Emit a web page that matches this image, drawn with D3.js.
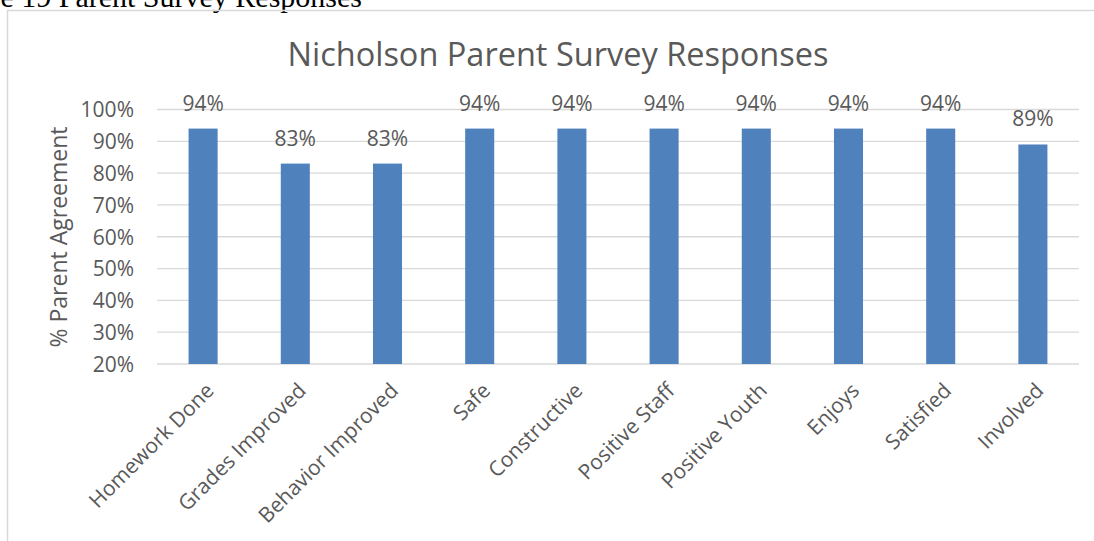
<!DOCTYPE html>
<html><head><meta charset="utf-8">
<script src="https://cdn.jsdelivr.net/npm/d3@7"></script>
<style>
html,body{margin:0;padding:0;background:#fff;}
svg text{font-family:"Open Sans","DejaVu Sans",sans-serif;fill:#595959;}
</style></head>
<body><svg id="c" width="1094" height="541"></svg>
<script>
const categories = ["Homework Done","Grades Improved","Behavior Improved","Safe","Constructive","Positive Staff","Positive Youth","Enjoys","Satisfied","Involved"];
const values = [0.94,0.83,0.83,0.94,0.94,0.94,0.94,0.94,0.94,0.89];
const yTicks = [0.2,0.3,0.4,0.5,0.6,0.7,0.8,0.9,1.0];
const title = "Nicholson Parent Survey Responses";
const yTitle = "% Parent Agreement";
const caption = "Figure 19 Parent Survey Responses";

const svg = d3.select("#c");
const W = 1094, H = 541;
const m = {left:157, right:1079, top:109.5, bottom:364};

// document caption (cropped at top, as in the reference)
svg.append("text").attr("x",362).attr("y",6.5).attr("text-anchor","end")
  .style("font-family","'Liberation Serif','Times New Roman',serif").style("font-size","30px").style("fill","#000")
  .text(caption);

// chart frame
svg.append("path").attr("d",`M7.5,${H} V10.5 H${W}`).attr("fill","none").attr("stroke","#d9d9d9").attr("stroke-width",1.5);

const x = d3.scaleBand().domain(categories).range([m.left,m.right]).paddingInner(0.685).paddingOuter(0.3425);
const y = d3.scaleLinear().domain([0.2,1.0]).range([m.bottom,m.top]);

// gridlines
svg.append("g").selectAll("line").data(yTicks).join("line")
  .attr("x1",m.left).attr("x2",m.right)
  .attr("y1",d=>y(d)).attr("y2",d=>y(d))
  .attr("stroke","#d9d9d9").attr("stroke-width",1.3);

// y axis labels
const yAxis = d3.axisLeft(y).tickValues(yTicks).tickFormat(d3.format(".0%")).tickSize(0).tickPadding(0);
const gy = svg.append("g").attr("transform",`translate(134,0)`).call(yAxis);
gy.select(".domain").remove();
gy.selectAll("text").style("font-size","21px").attr("dy","0.35em").style("fill","#595959");

// bars
svg.append("g").selectAll("rect").data(values).join("rect")
  .attr("x",(d,i)=>x(categories[i])).attr("width",x.bandwidth())
  .attr("y",d=>y(d)).attr("height",d=>y(0.2)-y(d))
  .attr("fill","#4f81bd");

// data labels
svg.append("g").selectAll("text").data(values).join("text")
  .attr("x",(d,i)=>x(categories[i])+x.bandwidth()/2)
  .attr("y",d=>y(d)-18)
  .attr("text-anchor","middle").style("font-size","21px")
  .text(d=>d3.format(".0%")(d));

// x axis labels
const xAxis = d3.axisBottom(x).tickSize(0).tickPadding(0);
const gx = svg.append("g").attr("transform",`translate(0,${m.bottom})`).call(xAxis);
gx.select(".domain").remove();
gx.selectAll("text")
  .attr("text-anchor","end").attr("dy",0).attr("y",0).attr("x",0)
  .attr("transform","translate(12,28) rotate(-45)")
  .style("font-size","21px").style("fill","#595959");

// title
svg.append("text").attr("x",558).attr("y",66).attr("text-anchor","middle")
  .style("font-size","32.5px").text(title);

// y title
svg.append("text").attr("transform","translate(67,237) rotate(-90)").attr("text-anchor","middle")
  .style("font-size","23px").text(yTitle);
</script></body></html>
